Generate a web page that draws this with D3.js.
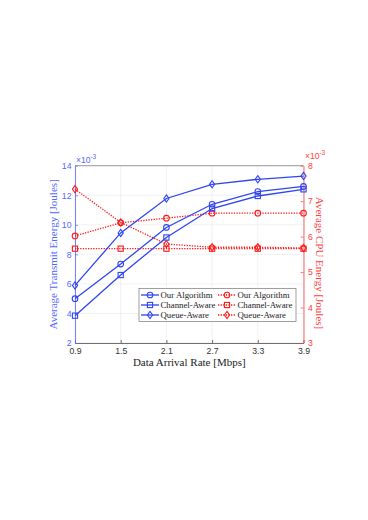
<!DOCTYPE html>
<html>
<head>
<meta charset="utf-8">
<script src="https://cdn.jsdelivr.net/npm/d3@7"></script>
<style>
  body { margin: 0; background: #fff; }
</style>
</head>
<body>
<div id="chart"></div>
<script>
// data (energy values are in units of 1e-3 Joules)
var rates = [0.9, 1.5, 2.1, 2.7, 3.3, 3.9];
var leftTicks = [2, 4, 6, 8, 10, 12, 14];
var rightTicks = [3, 4, 5, 6, 7, 8];

var txOur = [5.0, 7.34, 9.82, 11.39, 12.25, 12.6];
var txChannel = [3.85, 6.6, 9.14, 11.1, 11.95, 12.4];
var txQueue = [5.9, 9.45, 11.78, 12.74, 13.08, 13.3];

var cpuOur = [6.02, 6.39, 6.52, 6.66, 6.66, 6.66];
var cpuChannel = [5.66, 5.66, 5.66, 5.66, 5.66, 5.66];
var cpuQueue = [7.34, 6.4, 5.79, 5.7, 5.7, 5.68];

var seriesNames = ["Our Algorithm", "Channel-Aware", "Queue-Aware"];
var markers = ["circle", "square", "diamond"];

var blue = "#2f45f0", blueAxis = "#5566ff";
var red = "#ff1a1a", redAxis = "#ff4040";

var W = 368, H = 520;
var pLeft = 75, pRight = 303.5, pTop = 165.7, pBottom = 343;
var sans = "Liberation Sans, Arial, sans-serif";
var serif = "Liberation Serif, Times New Roman, serif";

var svg = d3.select("#chart").append("svg")
    .attr("width", W).attr("height", H);

var x = d3.scaleLinear().domain([0.9, 3.9]).range([pLeft, pRight]);
var yL = d3.scaleLinear().domain([2, 14]).range([pBottom, pTop]);
var yR = d3.scaleLinear().domain([3, 8]).range([pBottom, pTop]);

// grid
var grid = svg.append("g").attr("stroke", "#e6e6ee").attr("stroke-width", 0.6);
rates.forEach(function(r) {
    grid.append("line").attr("x1", x(r)).attr("x2", x(r)).attr("y1", pTop).attr("y2", pBottom);
});
leftTicks.forEach(function(t) {
    grid.append("line").attr("x1", pLeft).attr("x2", pRight).attr("y1", yL(t)).attr("y2", yL(t));
});

// top border
svg.append("line").attr("x1", pLeft).attr("x2", pRight).attr("y1", pTop).attr("y2", pTop)
    .attr("stroke", "#777").attr("stroke-width", 0.7);

// x axis
var xAxis = svg.append("g")
    .attr("transform", "translate(0," + pBottom + ")")
    .call(d3.axisBottom(x).tickValues(rates).tickSize(-3).tickSizeOuter(0).tickPadding(5)
        .tickFormat(d3.format(".1f")));
xAxis.select(".domain").attr("stroke", "#333").attr("stroke-width", 0.7);
xAxis.selectAll(".tick line").attr("stroke", "#333").attr("stroke-width", 0.7);
xAxis.selectAll("text").attr("fill", "#333").style("font-family", sans).style("font-size", "8.7px");

// left axis
var lAxis = svg.append("g")
    .attr("transform", "translate(" + pLeft + ",0)")
    .call(d3.axisLeft(yL).tickValues(leftTicks).tickSize(-3).tickSizeOuter(0).tickPadding(3.5));
lAxis.select(".domain").attr("stroke", blueAxis).attr("stroke-width", 0.8);
lAxis.selectAll(".tick line").attr("stroke", blueAxis).attr("stroke-width", 0.7);
lAxis.selectAll("text").attr("fill", blueAxis).style("font-family", sans).style("font-size", "8.7px");

// right axis
var rAxis = svg.append("g")
    .attr("transform", "translate(" + pRight + ",0)")
    .call(d3.axisRight(yR).tickValues(rightTicks).tickSize(-3).tickSizeOuter(0).tickPadding(4.5)
        .tickFormat(d3.format("d")));
rAxis.select(".domain").attr("stroke", redAxis).attr("stroke-width", 0.8);
rAxis.selectAll(".tick line").attr("stroke", redAxis).attr("stroke-width", 0.7);
rAxis.selectAll("text").attr("fill", redAxis).style("font-family", sans).style("font-size", "8.7px");

// exponent labels
function expLabel(px, py, color) {
    var t = svg.append("text").attr("x", px).attr("y", py).attr("fill", color)
        .style("font-family", sans).style("font-size", "8.5px");
    t.append("tspan").text("\u00d710");
    t.append("tspan").attr("dy", -3.8).style("font-size", "6.5px").text("-3");
}
expLabel(pLeft + 1, pTop - 3, blueAxis);
expLabel(pRight + 1.5, pTop - 6.5, redAxis);

// axis labels
svg.append("text").attr("x", (pLeft + pRight) / 2).attr("y", 366)
    .attr("text-anchor", "middle").attr("fill", "#222")
    .style("font-family", serif).style("font-size", "11px")
    .text("Data Arrival Rate [Mbps]");
svg.append("text").attr("transform", "translate(56.5," + ((pTop + pBottom) / 2) + ") rotate(-90)")
    .attr("text-anchor", "middle").attr("fill", blueAxis)
    .style("font-family", serif).style("font-size", "11px")
    .text("Average Transmit Energy [Joules]");
svg.append("text").attr("transform", "translate(316,263) rotate(90)")
    .attr("text-anchor", "middle").attr("fill", redAxis)
    .style("font-family", serif).style("font-size", "11px")
    .text("Average CPU Energy [Joules]");

// markers
function drawMarker(g, type, cx, cy, color) {
    if (type === "circle") {
        g.append("circle").attr("cx", cx).attr("cy", cy).attr("r", 2.8)
            .attr("fill", "none").attr("stroke", color).attr("stroke-width", 1.1);
    } else if (type === "square") {
        g.append("rect").attr("x", cx - 2.6).attr("y", cy - 2.6).attr("width", 5.2).attr("height", 5.2)
            .attr("fill", "none").attr("stroke", color).attr("stroke-width", 1.1);
    } else {
        g.append("path").attr("d", "M" + cx + "," + (cy - 3.6) + "L" + (cx + 2.6) + "," + cy +
            "L" + cx + "," + (cy + 3.6) + "L" + (cx - 2.6) + "," + cy + "Z")
            .attr("fill", "none").attr("stroke", color).attr("stroke-width", 1.1);
    }
}

var line = d3.line();
function drawSeries(vals, yScale, color, dotted, marker) {
    var g = svg.append("g");
    var pts = vals.map(function(v, i) { return [x(rates[i]), yScale(v)]; });
    g.append("path").attr("d", line(pts)).attr("fill", "none")
        .attr("stroke", color).attr("stroke-width", 1.3)
        .attr("stroke-dasharray", dotted ? "1.3,1.3" : null);
    pts.forEach(function(p) { drawMarker(g, marker, p[0], p[1], color); });
}

drawSeries(cpuOur, yR, red, true, "circle");
drawSeries(cpuChannel, yR, red, true, "square");
drawSeries(cpuQueue, yR, red, true, "diamond");
drawSeries(txOur, yL, blue, false, "circle");
drawSeries(txChannel, yL, blue, false, "square");
drawSeries(txQueue, yL, blue, false, "diamond");

// legend
var lg = svg.append("g");
lg.append("rect").attr("x", 139).attr("y", 288.5).attr("width", 157).attr("height", 33)
    .attr("fill", "#fff").attr("stroke", "#777").attr("stroke-width", 0.7);
seriesNames.forEach(function(name, i) {
    var yy = 295 + i * 10;
    [[141, blue, false], [218, red, true]].forEach(function(c) {
        lg.append("line").attr("x1", c[0]).attr("x2", c[0] + 18).attr("y1", yy).attr("y2", yy)
            .attr("stroke", c[1]).attr("stroke-width", 1.3)
            .attr("stroke-dasharray", c[2] ? "1.3,1.3" : null);
        drawMarker(lg, markers[i], c[0] + 9, yy, c[1]);
        lg.append("text").attr("x", c[0] + 19.5).attr("y", yy + 3)
            .attr("fill", "#222").style("font-family", serif).style("font-size", "8.8px")
            .text(name);
    });
});
</script>
</body>
</html>
